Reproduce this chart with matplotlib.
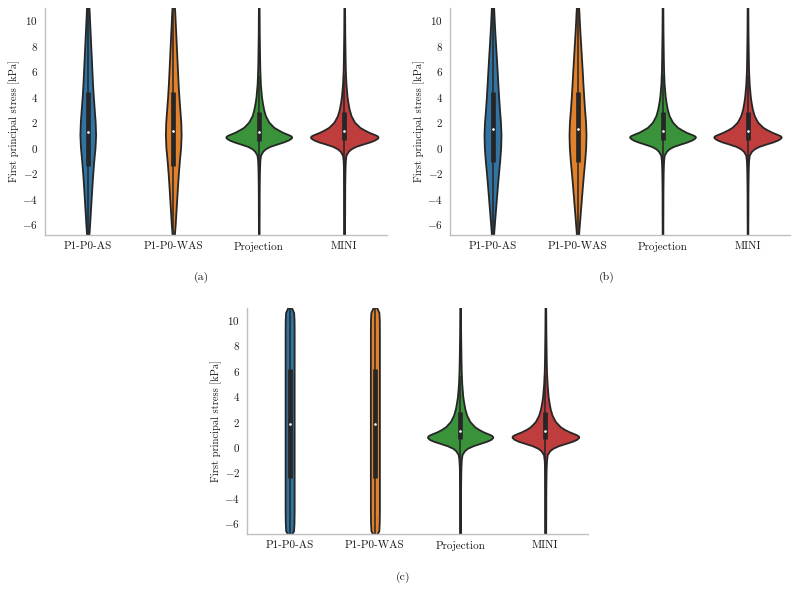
import matplotlib
matplotlib.use("Agg")
import matplotlib.pyplot as plt
import numpy as np

plt.rcParams["font.family"] = ["cmr10", "DejaVu Serif"]
plt.rcParams["mathtext.fontset"] = "cm"
plt.rcParams["axes.formatter.use_mathtext"] = True

# ---------------- data ----------------
categories = ["P1-P0-AS", "P1-P0-WAS", "Projection", "MINI"]
panel_labels = ["(a)", "(b)", "(c)"]
ylabel = "First principal stress [kPa]"
yticks = [-6, -4, -2, 0, 2, 4, 6, 8, 10]
ylim = (-6.85, 10.95)
colors = ["#3274a1", "#e1812c", "#3a923a", "#c03d3e"]

# y grid for the broad (AS / WAS) violins
y_broad = [-6.9, -6.6, -6.0, -5.0, -4.0, -3.0, -2.0, -1.0, 0.0, 1.0, 2.0,
           3.0, 4.0, 5.0, 6.0, 7.0, 8.0, 9.0, 10.0, 10.6, 11.0]
# y grid for the peaked (Projection / MINI) violins
y_peak = [-6.9, -6.0, -5.0, -4.0, -3.0, -2.0, -1.5, -1.0, -0.6, -0.3, -0.1,
          0.1, 0.3, 0.45, 0.6, 0.75, 0.85, 0.95, 1.05, 1.2, 1.4, 1.6, 2.0,
          2.5, 3.0, 3.5, 4.0, 5.0, 6.0, 7.0, 8.0, 9.0, 10.0, 11.0]

# half-widths of the violins (category units)
a_as = [0.012, 0.016, 0.022, 0.031, 0.040, 0.049, 0.059, 0.071, 0.085, 0.092,
        0.087, 0.076, 0.065, 0.056, 0.049, 0.042, 0.035, 0.028, 0.021, 0.017, 0.014]
a_was = [0.012, 0.016, 0.023, 0.032, 0.041, 0.050, 0.060, 0.072, 0.086, 0.092,
         0.088, 0.077, 0.066, 0.057, 0.050, 0.043, 0.036, 0.029, 0.022, 0.018, 0.014]
b_as = [0.012, 0.015, 0.022, 0.034, 0.046, 0.058, 0.071, 0.085, 0.096, 0.100,
        0.094, 0.082, 0.072, 0.063, 0.055, 0.046, 0.037, 0.028, 0.020, 0.016, 0.013]
b_was = [0.012, 0.015, 0.022, 0.034, 0.046, 0.058, 0.071, 0.085, 0.096, 0.100,
         0.095, 0.083, 0.073, 0.064, 0.056, 0.047, 0.038, 0.029, 0.021, 0.017, 0.013]
c_as = [0.020, 0.046, 0.051, 0.053, 0.053, 0.053, 0.053, 0.053, 0.053, 0.053,
        0.053, 0.053, 0.053, 0.053, 0.053, 0.053, 0.053, 0.053, 0.052, 0.047, 0.020]
c_was = [0.020, 0.046, 0.051, 0.053, 0.053, 0.053, 0.053, 0.053, 0.053, 0.053,
         0.053, 0.053, 0.053, 0.053, 0.053, 0.053, 0.053, 0.053, 0.052, 0.047, 0.020]

a_proj = [0.004, 0.004, 0.005, 0.005, 0.006, 0.008, 0.010, 0.013, 0.020, 0.045,
          0.075, 0.13, 0.22, 0.29, 0.345, 0.38, 0.385, 0.37, 0.335, 0.28,
          0.225, 0.175, 0.118, 0.078, 0.057, 0.043, 0.032, 0.019, 0.013,
          0.010, 0.008, 0.006, 0.005, 0.004]
a_mini = [0.004, 0.004, 0.005, 0.005, 0.006, 0.008, 0.010, 0.013, 0.020, 0.045,
          0.078, 0.135, 0.225, 0.30, 0.355, 0.39, 0.395, 0.38, 0.345, 0.29,
          0.23, 0.18, 0.12, 0.080, 0.058, 0.044, 0.033, 0.020, 0.013,
          0.010, 0.008, 0.006, 0.005, 0.004]
b_proj = [0.004, 0.004, 0.005, 0.005, 0.006, 0.008, 0.010, 0.013, 0.020, 0.045,
          0.075, 0.13, 0.22, 0.29, 0.345, 0.38, 0.388, 0.372, 0.337, 0.28,
          0.225, 0.175, 0.118, 0.078, 0.057, 0.043, 0.032, 0.019, 0.013,
          0.010, 0.008, 0.006, 0.005, 0.004]
b_mini = [0.004, 0.004, 0.005, 0.005, 0.006, 0.008, 0.010, 0.013, 0.020, 0.045,
          0.078, 0.135, 0.225, 0.30, 0.355, 0.39, 0.397, 0.382, 0.345, 0.29,
          0.23, 0.18, 0.12, 0.080, 0.058, 0.044, 0.033, 0.020, 0.013,
          0.010, 0.008, 0.006, 0.005, 0.004]
c_proj = [0.004, 0.004, 0.005, 0.005, 0.006, 0.008, 0.010, 0.014, 0.022, 0.050,
          0.085, 0.15, 0.24, 0.31, 0.36, 0.383, 0.38, 0.36, 0.325, 0.27,
          0.215, 0.17, 0.115, 0.077, 0.056, 0.042, 0.031, 0.019, 0.013,
          0.010, 0.008, 0.006, 0.005, 0.004]
c_mini = [0.004, 0.004, 0.005, 0.005, 0.006, 0.008, 0.010, 0.014, 0.022, 0.050,
          0.087, 0.152, 0.245, 0.315, 0.365, 0.39, 0.39, 0.37, 0.335, 0.28,
          0.22, 0.175, 0.118, 0.079, 0.057, 0.043, 0.032, 0.020, 0.013,
          0.010, 0.008, 0.006, 0.005, 0.004]

# box statistics: lower whisker, Q1, median, Q3, upper whisker
a_box = [[-6.9, -1.41, 1.26, 4.33, 11.0], [-6.9, -1.41, 1.28, 4.33, 11.0],
         [-6.9, 0.55, 1.26, 2.76, 5.65], [-6.9, 0.6, 1.28, 2.76, 5.7]]
b_box = [[-6.9, -1.1, 1.47, 4.33, 11.0], [-6.9, -1.1, 1.47, 4.33, 11.0],
         [-6.9, 0.6, 1.28, 2.76, 5.72], [-6.9, 0.6, 1.3, 2.76, 5.72]]
c_box = [[-6.9, -2.4, 1.78, 6.14, 11.0], [-6.9, -2.4, 1.78, 6.14, 11.0],
         [-6.9, 0.6, 1.25, 2.74, 5.61], [-6.9, 0.62, 1.28, 2.76, 5.65]]

panels = [
    ([a_as, a_was, a_proj, a_mini], a_box),
    ([b_as, b_was, b_proj, b_mini], b_box),
    ([c_as, c_was, c_proj, c_mini], c_box),
]
grids = [y_broad, y_broad, y_peak, y_peak]

# ---------------- layout ----------------
fig = plt.figure(figsize=(8.0, 5.91), dpi=100)
W, H = 800.0, 591.0
axes_px = [(45, 8, 387, 235), (450, 8, 790, 235), (247, 308, 588, 534)]
caption_px = [(201, 277), (607, 277), (403, 577)]
edge = "#262626"
textc = "#1a1a1a"

for (widths, boxes), (x0, y0, x1, y1), (cx, cy), lab in zip(panels, axes_px, caption_px, panel_labels):
    ax = fig.add_axes([x0 / W, 1 - y1 / H, (x1 - x0) / W, (y1 - y0) / H])
    for i, (hw, grid, box, col) in enumerate(zip(widths, grids, boxes, colors)):
        g = np.asarray(grid)
        w = np.asarray(hw)
        ax.fill_betweenx(g, i - w, i + w, facecolor=col, edgecolor=edge,
                         linewidth=1.3, zorder=1)
        lo, q1, med, q3, hi = box
        ax.vlines(i, lo, hi, color=edge, linewidth=1.1, zorder=2)
        ax.vlines(i, q1, q3, color=edge, linewidth=3.4, zorder=3)
        ax.scatter([i], [med], s=5, color="white", edgecolor=edge,
                   linewidth=0.3, zorder=4)
    ax.set_xlim(-0.5, 3.5)
    ax.set_ylim(*ylim)
    ax.set_xticks(range(len(categories)))
    ax.set_xticklabels(categories, fontsize=8)
    ax.set_yticks(yticks)
    ax.tick_params(axis="both", length=0, pad=5, labelsize=8, colors=textc)
    ax.set_ylabel(ylabel, fontsize=7.6, color=textc)
    ax.yaxis.set_label_coords(-25.0 / (x1 - x0), 0.5)
    for s in ["top", "right"]:
        ax.spines[s].set_visible(False)
    for s in ["left", "bottom"]:
        ax.spines[s].set_color("#bfbfbf")
        ax.spines[s].set_linewidth(1.0)
    fig.text(cx / W, 1 - cy / H, lab, ha="center", va="center", fontsize=8.5,
             color=textc)

fig.savefig("out.png", dpi=100)
